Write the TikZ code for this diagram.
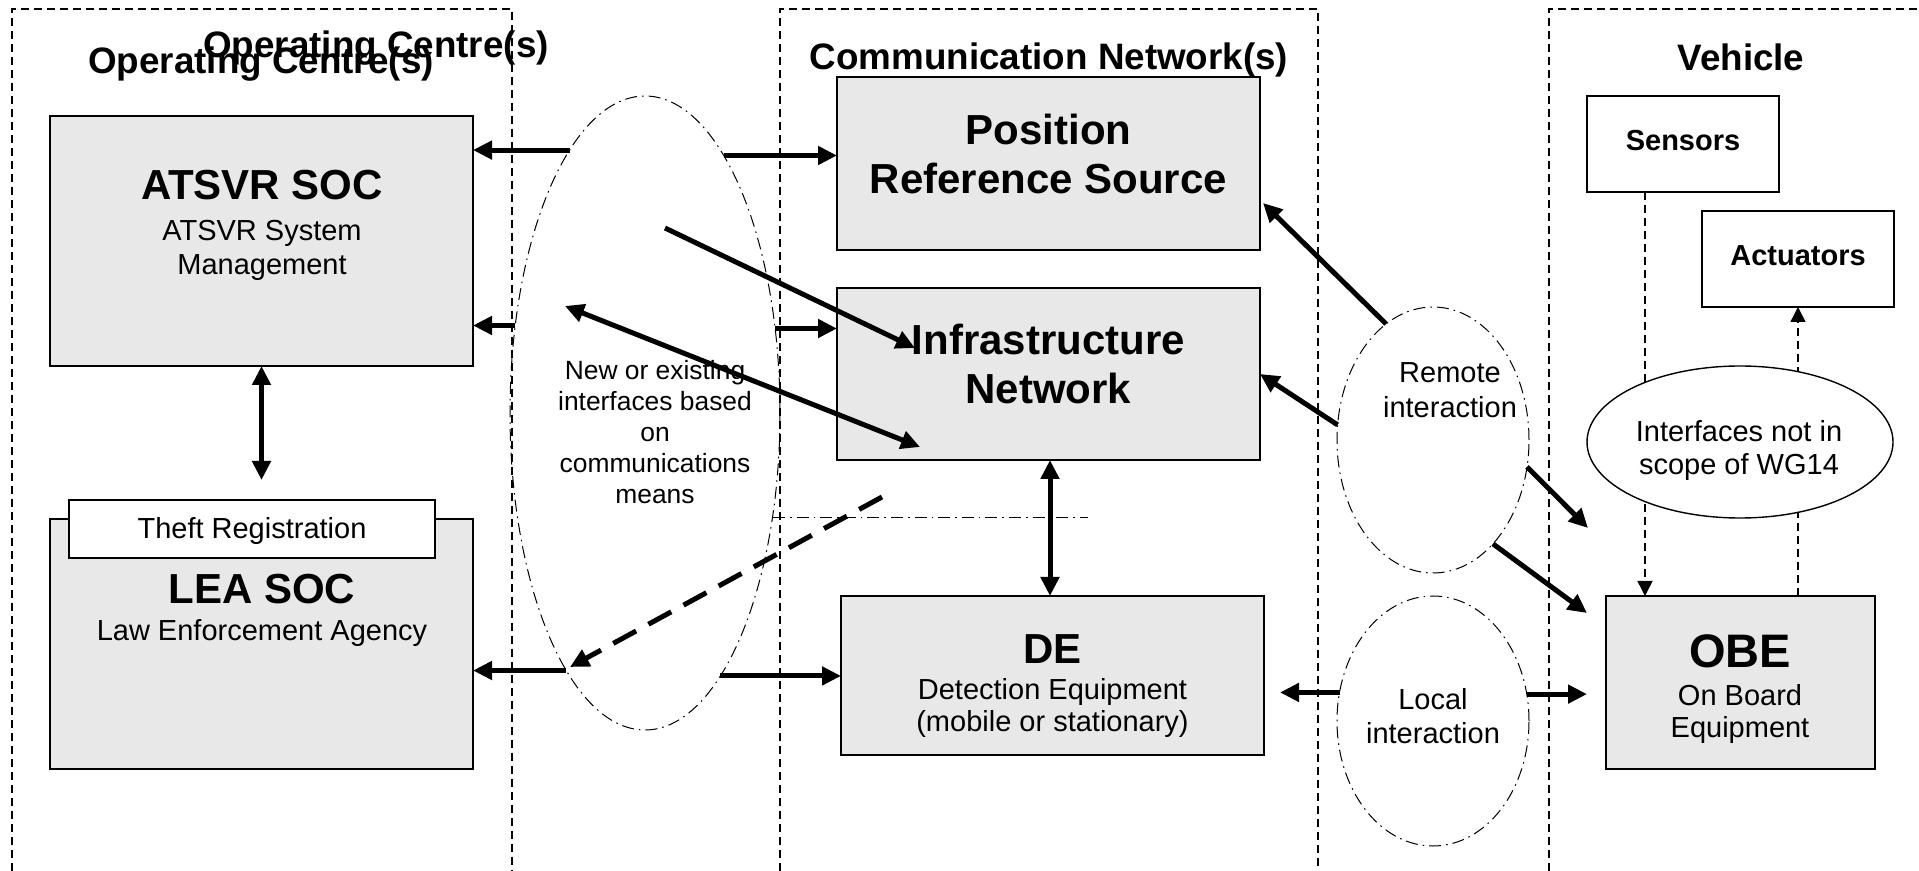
\documentclass[tikz,border=0pt]{standalone}
\usepackage{fontspec}
\setmainfont{Liberation Sans}
\usetikzlibrary{shapes.geometric,arrows.meta,calc}
\definecolor{boxgray}{RGB}{232,232,232}
\newcommand{\tfTitle}{\fontsize{18.4}{22}\selectfont\bfseries}
\newcommand{\tfHead}{\fontsize{21}{25}\selectfont\bfseries}
\newcommand{\tfOBE}{\fontsize{23.5}{28}\selectfont\bfseries}
\newcommand{\tfBody}{\fontsize{14.5}{17}\selectfont}
\newcommand{\tfBodyB}{\fontsize{14.5}{17}\selectfont\bfseries}
\newcommand{\tfSmall}{\fontsize{13.2}{16}\selectfont}
\begin{document}
\begin{tikzpicture}[x=0.5pt,y=-0.5pt,
  frameline/.style={line width=0.75pt, dash pattern=on 4pt off 2.5pt},
  dashdot/.style={line width=0.5pt, dash pattern=on 6pt off 2.5pt on 0.8pt off 2.5pt},
  graybox/.style={draw, line width=1.4pt, fill=boxgray, rectangle, inner sep=0pt, outer sep=0pt},
  whitebox/.style={draw, line width=1pt, fill=white, rectangle, inner sep=0pt, outer sep=0pt},
  zone/.style={draw, dashdot, ellipse, inner sep=0pt, outer sep=0pt},
  bigarrow/.style={line width=2.5pt, arrows={-Triangle[length=9.5pt,width=9pt]}},
  bigboth/.style={line width=2.5pt, arrows={Triangle[length=9.5pt,width=9pt]-Triangle[length=9.5pt,width=9pt]}},
  bigdashed/.style={bigarrow, dash pattern=on 13pt off 7pt},
  thinarrow/.style={line width=0.75pt, dash pattern=on 4pt off 2.5pt, arrows={-Triangle[length=7.5pt,width=7.5pt]}},
  txt/.style={inner sep=0pt, outer sep=0pt, anchor=base}
]
\useasboundingbox (0,0) rectangle (1919,871);

% group frames, open at the bottom
\draw[frameline] (12,871) -- (12,9) -- (512,9) -- (512,871);
\draw[frameline] (780,871) -- (780,9) -- (1318,9) -- (1318,871);
\draw[frameline] (1549,871) -- (1549,9) -- (1919,9);

% group titles
\node[txt, font=\tfTitle] (ttl-oc1) at (376,58) {Operating Centre(s)};
\node[txt, font=\tfTitle] (ttl-oc2) at (261,74) {Operating Centre(s)};
\node[txt, font=\tfTitle] (ttl-cn) at (1049,70) {Communication Network(s)};
\node[txt, font=\tfTitle] (ttl-veh) at (1741,71) {Vehicle};

% interaction zones
\node[zone, minimum width=135pt, minimum height=317pt] (iface) at (645,413) {};
\node[zone, minimum width=96pt, minimum height=133pt] (remote) at (1433,440) {};
\node[zone, minimum width=96pt, minimum height=125pt] (local) at (1433,721) {};

% operating centres
\node[graybox, minimum width=211.5pt, minimum height=125pt] (atsvr) at (261.5,241) {};
\node[graybox, minimum width=211.5pt, minimum height=125pt] (lea) at (261.5,644) {};
\node[whitebox, line width=1.4pt, minimum width=183pt, minimum height=29pt] (theft) at (252,529) {};

% communication networks
\node[graybox, minimum width=211.5pt, minimum height=86.5pt] (prs) at (1048.5,163.5) {};
\node[graybox, minimum width=211.5pt, minimum height=86pt] (infra) at (1048.5,374) {};
\node[graybox, minimum width=211.5pt, minimum height=79.5pt] (de) at (1052.5,675.5) {};

% vehicle
\node[whitebox, minimum width=96pt, minimum height=48pt] (sensors) at (1683,144) {};
\node[whitebox, minimum width=96pt, minimum height=48pt] (actuators) at (1798,259) {};
\node[graybox, minimum width=134.5pt, minimum height=86.5pt] (obe) at (1740.5,682.5) {};

% box texts
\node[txt, font=\tfHead] (t-atsvr1) at (262,200) {ATSVR SOC};
\node[txt, font=\tfBody] (t-atsvr2) at (262,241) {ATSVR System};
\node[txt, font=\tfBody] (t-atsvr3) at (262,275) {Management};
\node[txt, font=\tfBody] (t-theft) at (252,539) {Theft Registration};
\node[txt, font=\tfHead] (t-lea1) at (262,604) {LEA SOC};
\node[txt, font=\tfBody] (t-lea2) at (262,641) {Law Enforcement Agency};
\node[txt, font=\tfHead] (t-prs1) at (1048.5,145) {Position};
\node[txt, font=\tfHead] (t-prs2) at (1048.5,194) {Reference Source};
\node[txt, font=\tfHead] (t-inf1) at (1048.5,355) {Infrastructure};
\node[txt, font=\tfHead] (t-inf2) at (1048.5,404) {Network};
\node[txt, font=\tfHead] (t-de1) at (1052.5,664) {DE};
\node[txt, font=\tfBody] (t-de2) at (1052.5,699) {Detection Equipment};
\node[txt, font=\tfBody] (t-de3) at (1052.5,732) {(mobile or stationary)};
\node[txt, font=\tfBodyB] (t-sen) at (1683,151) {Sensors};
\node[txt, font=\tfBodyB] (t-act) at (1798,266) {Actuators};
\node[txt, font=\tfOBE] (t-obe1) at (1740,668) {OBE};
\node[txt, font=\tfBody] (t-obe2) at (1740,705) {On Board};
\node[txt, font=\tfBody] (t-obe3) at (1740,738) {Equipment};

% zone texts
\node[txt, font=\tfSmall] (t-if1) at (655,380) {New or existing};
\node[txt, font=\tfSmall] (t-if2) at (655,411) {interfaces based};
\node[txt, font=\tfSmall] (t-if3) at (655,442) {on};
\node[txt, font=\tfSmall] (t-if4) at (655,473) {communications};
\node[txt, font=\tfSmall] (t-if5) at (655,504) {means};
\node[txt, font=\tfBody] (t-rem1) at (1450,383) {Remote};
\node[txt, font=\tfBody] (t-rem2) at (1450,418) {interaction};
\node[txt, font=\tfBody] (t-loc1) at (1433,710) {Local};
\node[txt, font=\tfBody] (t-loc2) at (1433,743) {interaction};

% free ends of connectors
\coordinate (d1s) at (665,228);
\coordinate (d1e) at (915,348);
\coordinate (d2s) at (565,306);
\coordinate (d2e) at (920,447);
\coordinate (dss) at (882,497);
\coordinate (dse) at (570,667);
\coordinate (hls) at (773,518);
\coordinate (hle) at (1088,518);
\coordinate (alb) at (261.5,480);
\coordinate (idx) at (1050,0);
\coordinate (rpt) at (1263,203);
\coordinate (ro1) at (1588,528);
\coordinate (ro2) at (1587,613);
\coordinate (sx) at (1645,0);

% interfaces based on communications means
\draw[bigarrow] (iface.106.5) -- (iface.106.5 -| atsvr.east);
\draw[bigarrow] (iface.73.5) -- (iface.73.5 -| prs.west);
\draw[bigarrow] (iface.146.5) -- (iface.146.5 -| atsvr.east);
\draw[bigarrow] (iface.33.5) -- (iface.33.5 -| infra.west);
\draw[bigarrow] (iface.253.3) -- (iface.253.3 -| lea.east);
\draw[bigarrow] (iface.286.7) -- (iface.286.7 -| de.west);
\draw[bigarrow] (d1s) -- (d1e);
\draw[bigboth] (d2s) -- (d2e);
\draw[bigdashed] (dss) -- (dse);
\draw[dashdot] (hls) -- (hle);

% links inside groups
\draw[bigboth] (atsvr.south) -- (alb);
\draw[bigboth] (infra.south -| idx) -- (de.north -| idx);

% remote interaction
\draw[bigarrow] (remote.112.5) -- (rpt);
\draw[bigarrow] (remote.171.7) -- (infra.east);
\draw[bigarrow] (remote.344.7) -- (ro1);
\draw[bigarrow] (remote.300.2) -- (ro2);

% local interaction
\draw[bigarrow, shorten >=8pt] (local.163.6) -- (local.163.6 -| de.east);
\draw[bigarrow, shorten >=9.5pt] (local.16.4) -- (local.16.4 -| obe.west);

% vehicle-internal interfaces
\draw[thinarrow] (sensors.south -| sx) -- (obe.north -| sx);
\draw[thinarrow] (obe.north -| actuators.south) -- (actuators.south);
\node[draw, fill=white, line width=0.7pt, ellipse, inner sep=0pt, minimum width=153pt, minimum height=76pt] (wg) at (1740,442) {};
\node[txt, font=\tfBody] (t-wg1) at (1739,442) {Interfaces not in};
\node[txt, font=\tfBody] (t-wg2) at (1739,475) {scope of WG14};
\end{tikzpicture}
\end{document}
